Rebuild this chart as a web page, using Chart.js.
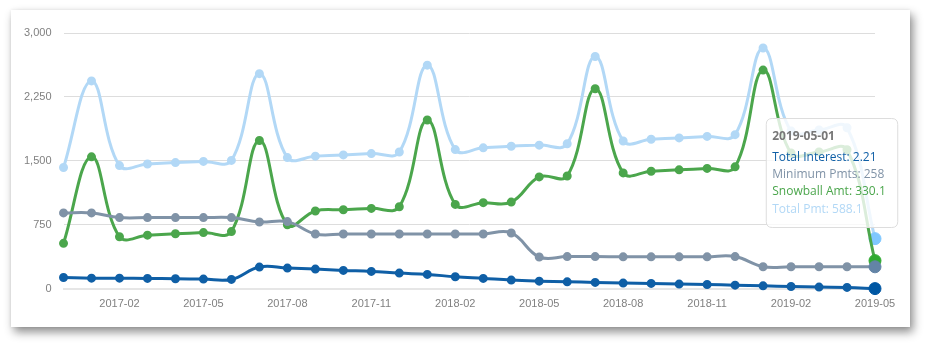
<!DOCTYPE html>
<html>
<head>
<meta charset="utf-8">
<title>Debt Snowball</title>
<script src="https://cdn.jsdelivr.net/npm/chart.js@4.4.1/dist/chart.umd.min.js"></script>
<style>
  body { margin: 0; background: #fff; }
  #card {
    position: absolute;
    left: 11px;
    top: 10px;
    width: 899px;
    height: 317px;
    background: #fff;
    box-shadow: 3px 5px 9px rgba(0, 0, 0, 0.45), 0 0 3px rgba(0, 0, 0, 0.08);
  }
</style>
</head>
<body>
<div id="card"><canvas id="snowballChart"></canvas></div>
<script>
// Months of the payoff schedule
const months = [
  '2016-12-01', '2017-01-01', '2017-02-01', '2017-03-01', '2017-04-01', '2017-05-01',
  '2017-06-01', '2017-07-01', '2017-08-01', '2017-09-01', '2017-10-01', '2017-11-01',
  '2017-12-01', '2018-01-01', '2018-02-01', '2018-03-01', '2018-04-01', '2018-05-01',
  '2018-06-01', '2018-07-01', '2018-08-01', '2018-09-01', '2018-10-01', '2018-11-01',
  '2018-12-01', '2019-01-01', '2019-02-01', '2019-03-01', '2019-04-01', '2019-05-01'
];

// Series values per month
const totalInterest = [133, 125, 125, 122, 118, 114, 110, 255, 243, 231, 216, 204, 184, 169, 141,
  122, 102, 90, 82, 75, 67, 63, 55, 51, 43, 35, 27, 20, 16, 2.21];
const minimumPmts = [890, 890, 835, 835, 835, 835, 835, 784, 788, 643, 643, 643, 643, 643, 643,
  643, 655, 373, 378, 378, 375, 375, 375, 375, 378, 259, 258, 258, 258, 258];
const snowballAmt = [533, 1548, 610, 629, 645, 659, 671, 1739, 751, 913, 927, 943, 962, 1980, 990,
  1010, 1017, 1312, 1323, 2346, 1359, 1379, 1395, 1412, 1430, 2565, 1592, 1604, 1631, 330.1];
const totalPmt = [1423, 2438, 1445, 1464, 1480, 1494, 1506, 2523, 1539, 1556, 1570, 1586, 1605, 2623, 1633,
  1653, 1672, 1685, 1701, 2724, 1734, 1754, 1770, 1787, 1808, 2824, 1850, 1862, 1889, 588.1];

// Y axis ticks
const yMin = 0;
const yMax = 3000;
const yStep = 750;

const colors = {
  interest: '#0f5fa6',
  minimum: '#8093a7',
  snowball: '#4ba64c',
  total: '#b2d8f6'
};

function lineSeries(label, data, color) {
  return {
    label: label,
    data: data,
    borderColor: color,
    backgroundColor: color,
    pointBackgroundColor: color,
    pointBorderColor: color,
    borderWidth: 3,
    pointRadius: 3,
    pointHoverRadius: 6,
    pointHoverBorderWidth: 1,
    tension: 0.4,
    fill: false,
    clip: false
  };
}

// Tooltip box sits to the upper left of the last month
Chart.Tooltip.positioners.upperRight = function () {
  const area = this.chart.chartArea;
  return { x: area.right - 43, y: area.top + 140 };
};

const ctx = document.getElementById('snowballChart').getContext('2d');

const snowballChart = new Chart(ctx, {
  type: 'line',
  data: {
    labels: months,
    datasets: [
      lineSeries('Total Interest', totalInterest, colors.interest),
      lineSeries('Minimum Pmts', minimumPmts, colors.minimum),
      lineSeries('Snowball Amt', snowballAmt, colors.snowball),
      lineSeries('Total Pmt', totalPmt, colors.total)
    ]
  },
  options: {
    responsive: true,
    maintainAspectRatio: false,
    animation: false,
    layout: {
      padding: { left: 1, right: 35, top: 23, bottom: 7 }
    },
    interaction: { mode: 'index', intersect: false },
    plugins: {
      legend: { display: false },
      tooltip: {
        position: 'upperRight',
        xAlign: 'center',
        yAlign: 'center',
        caretSize: 0,
        caretPadding: 0,
        backgroundColor: 'rgba(255, 255, 255, 0.8)',
        borderColor: '#dddddd',
        borderWidth: 1,
        cornerRadius: 6,
        padding: { left: 6, right: 12, top: 11, bottom: 11 },
        displayColors: false,
        titleColor: '#777777',
        titleFont: { family: 'Open Sans', size: 12, weight: 'bold' },
        titleMarginBottom: 6,
        bodyFont: { family: 'Open Sans', size: 12 },
        bodySpacing: 3,
        callbacks: {
          labelTextColor: function (item) {
            return item.dataset.borderColor;
          }
        }
      }
    },
    scales: {
      x: {
        grid: { display: false, drawTicks: false },
        border: { color: '#e6e6e6', width: 2 },
        ticks: {
          autoSkip: false,
          maxRotation: 0,
          padding: 9,
          color: '#808080',
          font: { family: 'Liberation Sans', size: 11 },
          // show every third month, formatted YYYY-MM
          callback: function (value, index) {
            return (index - 2) % 3 === 0 ? months[index].slice(0, 7) : '';
          }
        }
      },
      y: {
        min: yMin,
        max: yMax,
        grid: { color: '#dddddd', drawTicks: false },
        border: { display: false },
        ticks: {
          stepSize: yStep,
          padding: 12,
          color: '#808080',
          font: { family: 'Liberation Sans', size: 11 }
        }
      }
    }
  }
});

// Highlight the final month
const lastIndex = months.length - 1;
const activePoints = snowballChart.data.datasets.map((d, i) => ({ datasetIndex: i, index: lastIndex }));
snowballChart.setActiveElements(activePoints);
snowballChart.tooltip.setActiveElements(activePoints, { x: 0, y: 0 });
snowballChart.update();
</script>
</body>
</html>
